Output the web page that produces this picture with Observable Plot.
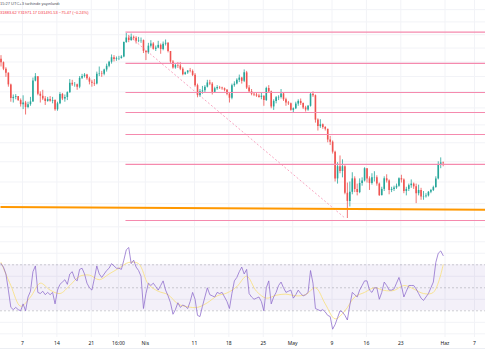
<!DOCTYPE html>
<html><head><meta charset="utf-8">
<script src="https://cdn.jsdelivr.net/npm/d3@7"></script>
<script src="https://cdn.jsdelivr.net/npm/@observablehq/plot@0.6"></script>
<style>
body{margin:0;background:#fff;font-family:"Liberation Sans",Arial,sans-serif}
#wrap{position:relative;width:485px;height:360px;overflow:hidden;background:#fff}
#price{position:absolute;left:0;top:0}
#rsi{position:absolute;left:0;top:237px}
.hdr{position:absolute;left:0;font-size:4px;white-space:nowrap;line-height:1}
#axisline{position:absolute;left:0;top:348px;width:485px;height:1px;background:#eceef3}
</style></head><body>
<div id="wrap"><div id="price"></div><div id="rsi"></div>
<div class="hdr" style="top:2px;color:#50535e">15:27 UTC+3 tarihinde yayınlandı</div>
<div class="hdr" style="top:11px;color:#f23645">31883.62 Y31971.17 D31491.53 −75.47 (−0.24%)</div>
<div id="axisline"></div>
</div>
<script>
// ---- data (BTC-like 12h candles) ----
const firstOpen = 44400;
const closes = [43900,43000,42450,40900,39150,39300,39400,38900,38400,38600,38060,38400,38740,41400,41980,39700,39440,39100,38790,39050,38810,38900,37780,38500,39670,39100,39280,39900,41110,40900,40920,40600,41760,42000,42200,41700,41260,41100,41000,42300,42360,42300,42890,43400,43960,44600,44350,44450,44500,44700,46820,47500,47130,47600,47450,47000,47060,47100,45530,45300,46280,46600,45810,46000,46400,45800,46580,46700,45500,44000,43170,43500,43440,43000,42250,42500,42750,42700,42160,40800,39520,40000,40130,40600,41150,41000,39940,40400,40550,40500,40400,40200,39700,39200,40800,41000,41500,41800,41370,42500,40480,40000,39710,39600,39470,39300,39450,38900,40430,40000,38120,38800,39240,39300,39740,39000,38600,38500,37710,37900,38470,38800,38530,38000,37750,38200,39690,39500,36550,35800,36010,35700,35500,34300,34060,33000,30300,31500,31020,31500,28940,28200,29030,30300,29290,29000,29860,30100,31300,30300,29860,30400,30420,29800,28720,29300,30310,30100,29200,29300,29430,29600,30320,30200,29100,29300,29650,29800,29540,28900,29200,28600,28630,28700,29030,29200,29470,30300,31730,31884,31808];
const highs = [44900,44000,43200,42500,41000,39600,39650,39400,39100,39500,38800,38700,39300,41800,42400,42000,40000,40200,39400,39300,39400,39300,39000,38700,39900,39800,39600,40000,41600,41500,41200,41000,42000,42300,42400,42300,41900,41500,41600,42600,43300,42700,43000,43700,44100,45000,44900,44700,44800,44900,46900,48190,47900,48100,47800,47700,47600,47500,47200,45600,46700,47100,46800,46300,47000,46600,46900,47200,46800,45500,44200,43700,43900,43900,43200,42600,42800,43100,42900,42400,41000,40300,40700,40800,41500,41500,41200,40600,40800,40700,40600,40500,40300,39800,41000,41300,41700,42200,41900,42900,42700,40800,40300,39900,39800,39700,39800,39500,40600,40800,40100,39000,39400,39500,40300,39800,39200,38800,38600,38000,38700,39000,39100,38600,38200,38300,39900,40000,39600,36700,36600,36100,35800,35500,34700,34200,33100,31900,32600,32200,31600,29900,30000,30900,30500,29800,30300,30400,31400,31300,30500,30800,31000,30600,29900,29500,30500,30700,30200,29500,29600,29800,30400,30650,30300,29500,29800,30200,29900,29800,29700,29400,29100,28900,29100,29300,29600,30500,32000,32400,31971];
const lows = [43300,42800,41900,40600,38700,38600,39000,38800,38100,37800,37150,37900,38200,38700,41300,39500,38600,38900,38300,38700,38700,38500,37600,37600,38400,38900,38700,38900,39800,40700,40600,40200,40400,41600,41800,41500,40900,40600,40700,40900,42000,41900,42100,42600,43200,43700,44000,44100,44200,44400,44600,46700,46800,47000,47100,46600,46800,46700,45200,44200,45100,46000,45700,45500,45900,45100,45600,46300,45300,43800,43000,43000,43100,42800,42100,42200,42300,42500,42000,40600,39250,39300,39700,39900,40500,40800,39600,39800,40200,40300,40200,40000,39500,38600,39000,40600,40900,41200,41000,41200,40300,39800,39500,39400,39300,39200,39000,38200,38800,39800,37900,37700,38500,38900,39100,38800,38200,38300,37600,37400,37800,38200,38300,37800,37500,37600,38100,39300,36200,35300,35600,35500,35300,34000,33700,32800,30000,29800,30800,30400,28800,26700,27700,28800,29000,28700,28900,29600,30000,29900,29200,29700,30000,29600,28650,28700,29100,29900,28800,29000,29100,29300,29500,29900,28900,28700,29100,29400,29300,28000,28700,28300,28300,28500,28600,28900,29100,29400,30200,31300,31492];
const rsiValues = [71,68,62,48,33,31,33,31,30,36,30,42,47,64,69,46,45,47,44,46,44,46,36,48,53,55,57,53,62,64,58,56,66,67,62,54,50,48,58,69,62,59,62,65,67,71,69,67,67,66,74,83,85,71,74,68,65,60,32,45,54,52,54,51,48,52,56,48,43,37,27,31,37,33,35,34,32,38,46,40,26,25,34,42,50,44,43,42,46,45,46,42,38,32,45,56,59,64,68,62,66,45,42,40,41,42,38,30,50,56,36,42,46,52,55,50,46,47,48,41,44,48,45,43,44,46,65,54,32,31,30,31,29,26,25,14,18,24,30,29,26,22,35,46,44,42,48,52,56,56,48,46,50,50,40,46,55,52,48,48,49,54,59,52,42,47,52,52,52,49,45,41,39,42,45,50,55,72,80,82,78];
const rsiMaEvery4 = [72,52,34,42,54,48,45,52,60,61,57,62,67,72,71,53,47,44,36,33.5,33,37,43,45.5,51,60,47,41,43.5,44.5,43,44,50,36,23,30,42,46,50,47.7,47.7,52,49,45,46,70];
const levels = [48400,43800,39920,37450,34910,31730,26530];
const gridPrices = [26000,28000,30000,32000,34000,36000,38000,40000,42000,44000,46000,48000,50000,52000];
const rsiGrid = [10,20,40,60,80,90];
const tickLabels = ["7","14","21","16:00","Nis","11","18","25","May","9","16","23","Haz","7"];
const tickDates = [Date.UTC(2022,2,7),Date.UTC(2022,2,14),Date.UTC(2022,2,21),Date.UTC(2022,2,26,13),Date.UTC(2022,3,1),Date.UTC(2022,3,11),Date.UTC(2022,3,18),Date.UTC(2022,3,25),Date.UTC(2022,4,1),Date.UTC(2022,4,9),Date.UTC(2022,4,16),Date.UTC(2022,4,23),Date.UTC(2022,5,1),Date.UTC(2022,5,7)].map(d=>new Date(d));
const xDomain = [new Date(Date.UTC(2022,2,2,12,32)), new Date(Date.UTC(2022,5,9,5,45))];
const levelStart = new Date(Date.UTC(2022,2,27,23,0));
const trendLine = [{t1:new Date(Date.UTC(2022,2,28,13,45)),p1:47880,t2:new Date(Date.UTC(2022,4,11,17,50)),p2:26700}];
const orangeLine = [{t1:xDomain[0],p1:27700,t2:xDomain[1],p2:27455}];

// ---- build ----
const H = 3600e3, t0 = Date.UTC(2022,2,2,12);
const UP = "#26a69a", DN = "#ef5350";
const candles = closes.map((c,i)=>({t:new Date(t0+i*12*H+3*H),o:i?closes[i-1]:firstOpen,h:highs[i],l:lows[i],c}));
candles.forEach(d=>d.col = d.c>=d.o?UP:DN);
const levelRows = levels.map(p=>({t1:levelStart,t2:xDomain[1],p}));
const rsiData = rsiValues.map((v,i)=>({t:new Date(t0+i*12*H+3*H),v}));
const maData = rsiMaEvery4.map((v,i)=>({t:new Date(t0+i*48*H+3*H),v}));
const labelOf = new Map(tickDates.map((d,i)=>[+d,tickLabels[i]]));

const price = Plot.plot({
  width:485,height:237,margin:0,
  x:{type:"utc",domain:xDomain,axis:null},
  y:{type:"log",domain:[25130,53540],axis:null},
  color:{type:"identity"},
  marks:[
    Plot.ruleY(gridPrices,{stroke:"#f2f3f7"}),
    Plot.ruleX(tickDates,{stroke:"#f2f3f7"}),
    Plot.ruleX(candles,{x:"t",y1:"l",y2:"h",stroke:"col",strokeWidth:0.8}),
    Plot.ruleX(candles,{x:"t",y1:"o",y2:"c",stroke:"col",strokeWidth:1.6}),
    Plot.link(levelRows,{x1:"t1",x2:"t2",y1:"p",y2:"p",stroke:"#f58aae",strokeWidth:1.2}),
    Plot.link(trendLine,{x1:"t1",y1:"p1",x2:"t2",y2:"p2",stroke:"#f58aae",strokeOpacity:0.75,strokeDasharray:"2,2"}),
    Plot.link(orangeLine,{x1:"t1",y1:"p1",x2:"t2",y2:"p2",stroke:"#ff9800",strokeWidth:2})
  ]
});
document.getElementById("price").append(price);

const band = [{x1:xDomain[0],x2:xDomain[1],y1:30,y2:70}];
const rsi = Plot.plot({
  width:485,height:123,marginTop:0,marginBottom:23,marginLeft:0,marginRight:0,
  x:{type:"utc",domain:xDomain},
  y:{domain:[6.8,93.7],axis:null},
  marks:[
    Plot.ruleX(tickDates,{stroke:"#f2f3f7"}),
    Plot.ruleY(rsiGrid,{stroke:"#f2f3f7"}),
    Plot.rect(band,{x1:"x1",x2:"x2",y1:"y1",y2:"y2",fill:"#7e57c2",fillOpacity:0.09}),
    Plot.ruleY([70,50,30],{stroke:"#787b86",strokeOpacity:0.45,strokeDasharray:"2,2",strokeWidth:0.8}),
    Plot.line(maData,{x:"t",y:"v",stroke:"#f9df7a",strokeWidth:0.8,curve:"catmull-rom"}),
    Plot.line(rsiData,{x:"t",y:"v",stroke:"#8c6bcc",strokeOpacity:0.85,strokeWidth:0.9}),
    Plot.axisX({ticks:tickDates,tickFormat:d=>labelOf.get(+d),tickSize:0,tickPadding:4,fontSize:5,fill:"#131722"})
  ]
});
document.getElementById("rsi").append(rsi);
</script>
</body></html>
